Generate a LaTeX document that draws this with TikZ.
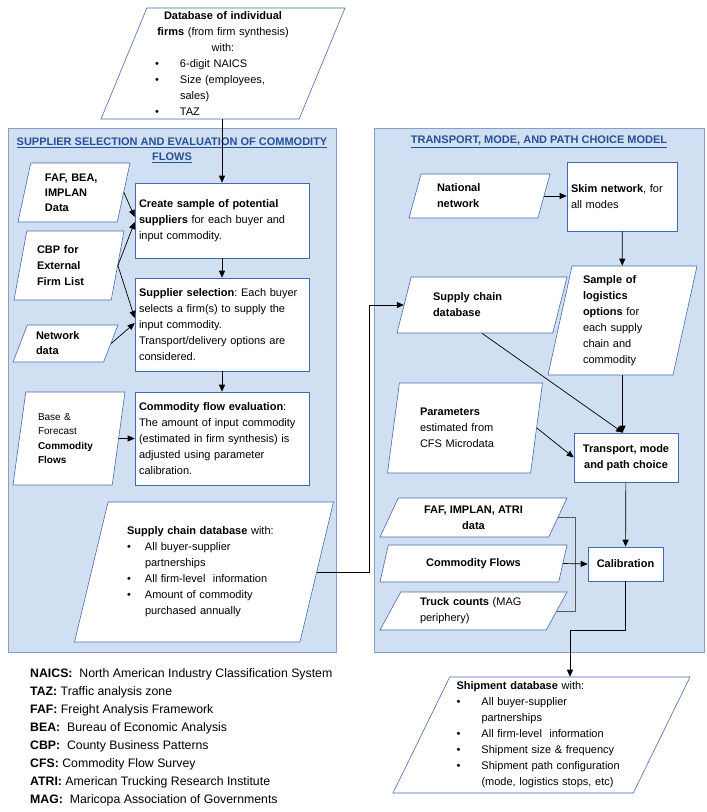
\documentclass[tikz,border=0pt]{standalone}
\usepackage{fontspec}
\setmainfont{Liberation Sans}
\usetikzlibrary{arrows.meta,shapes.geometric}
\frenchspacing

\definecolor{panelfill}{RGB}{208,224,242}
\definecolor{paneldraw}{RGB}{132,160,202}
\definecolor{boxblue}{RGB}{70,106,178}
\definecolor{titleblue}{RGB}{40,80,150}

% bullet line and its continuation line
\newcommand{\bitem}[2][25pt]{\makebox[\linewidth][l]{\makebox[#1][l]{\textbullet}#2}}
\newcommand{\bcont}[2][25pt]{\makebox[\linewidth][l]{\hspace*{#1}#2}}

\begin{document}
\begin{tikzpicture}[x=1pt, y=-1pt, >={Triangle[length=7pt,width=6pt]},
  every node/.style={font=\fontsize{11}{16}\selectfont},
  panel/.style={draw=paneldraw, fill=panelfill, line width=0.8pt},
  paneltitle/.style={text=titleblue, font=\fontsize{11}{15}\selectfont\bfseries, align=center},
  procbox/.style={draw=boxblue, fill=white, line width=0.6pt, inner sep=4pt, align=left},
  databox/.style={trapezium, trapezium left angle=#1, trapezium right angle={180-#1},
    trapezium stretches body, draw=boxblue, fill=white, line width=0.6pt, inner sep=0pt},
  flow/.style={->, line width=0.7pt},
  bracket/.style={line width=0.7pt, draw=black!65}]

  \fill[white] (0,0) rectangle (707,812);
  \useasboundingbox (0,0) rectangle (707,812);

  % Two model panels
  \draw[panel] (8,128) rectangle (336,652);
  \draw[panel] (374,128) rectangle (704,652);
  \node[paneltitle] (suptitle) at (172,150.5)
    {\underline{SUPPLIER SELECTION AND EVALUATION OF COMMODITY}\\\underline{FLOWS}};
  \node[paneltitle] (tptitle) at (539,142) {\underline{TRANSPORT, MODE, AND PATH CHOICE MODEL}};

  % Firm database from firm synthesis
  \node[databox=66.2, minimum width=244pt, minimum height=111pt, text width=136pt, align=center]
    (dbfirms) at (223,63.5)
    {\textbf{Database of individual}\\ \textbf{firms} (from firm synthesis)\\ with:\\
     \bitem{6-digit NAICS}\\ \bitem{Size (employees,}\\ \bcont{sales)}\\ \bitem{TAZ}};

  % Inputs of supplier selection
  \node[databox=71.3, minimum width=112pt, minimum height=59pt, text width=58pt, align=left,
    font=\fontsize{11}{15}\selectfont\bfseries] (fafbea) at (74,192.5) {FAF, BEA,\\IMPLAN\\Data};
  \node[databox=72.3, minimum width=110pt, minimum height=69pt, text width=64pt, align=left,
    font=\fontsize{11}{16}\selectfont\bfseries] (cbp) at (69,265.5) {CBP for\\External\\Firm List};
  \node[databox=58.1, minimum width=105pt, minimum height=37pt, text width=59pt, align=left,
    font=\fontsize{11}{15}\selectfont\bfseries] (network) at (65.5,343.5) {Network\\data};
  \node[databox=75.8, minimum width=112pt, minimum height=93pt, text width=62pt, align=left,
    font=\fontsize{10}{14.5}\selectfont] (basefc) at (69,438.5)
    {Base \&\\Forecast\\\textbf{Commodity}\\\textbf{Flows}};

  % Supplier selection steps
  \node[procbox, text width=166pt, minimum height=75pt] (create) at (222,220.5)
    {\textbf{Create sample of potential}\\\textbf{suppliers} for each buyer and\\input commodity.};
  \node[procbox, text width=166pt, minimum height=93pt] (suppsel) at (222,324.5)
    {\textbf{Supplier selection}: Each buyer\\selects a firm(s) to supply the\\input commodity.\\Transport/delivery options are\\considered.};
  \node[procbox, text width=166pt, minimum height=93pt] (cfeval) at (222,438.5)
    {\textbf{Commodity flow evaluation}:\\The amount of input commodity\\(estimated in firm synthesis) is\\adjusted using parameter\\calibration.};
  \node[databox=69.6, minimum width=259pt, minimum height=140pt, text width=154pt, align=left]
    (scdbleft) at (204,572)
    {\textbf{Supply chain database} with:\\ \bitem[18pt]{All buyer-supplier}\\ \bcont[18pt]{partnerships}\\
     \bitem[18pt]{All firm-level~ information}\\ \bitem[18pt]{Amount of commodity}\\ \bcont[18pt]{purchased annually}};

  % Transport, mode and path choice
  \node[databox=63.4, minimum width=141pt, minimum height=44pt, text width=85pt, align=left]
    (natnet) at (479.5,196) {\textbf{National}\\\textbf{network}};
  \node[procbox, text width=102pt, minimum height=69pt] (skim) at (622,196.5)
    {\textbf{Skim network}, for\\all modes};
  \node[databox=75.1, minimum width=149pt, minimum height=109pt, text width=79pt, align=left]
    (sample) at (622.5,320.5)
    {\textbf{Sample of}\\\textbf{logistics}\\\textbf{options} for\\each supply\\chain and\\commodity};
  \node[databox=59.5, minimum width=170pt, minimum height=56pt, text width=98pt, align=left]
    (scdbright) at (482,305) {\textbf{Supply chain}\\\textbf{database}};
  \node[databox=73.3, minimum width=155pt, minimum height=90pt, text width=90pt, align=left]
    (params) at (465,428) {\textbf{Parameters}\\estimated from\\CFS Microdata};
  \node[procbox, minimum width=104pt, minimum height=49pt, align=center,
    font=\fontsize{11}{16}\selectfont\bfseries] (transport) at (626,457.5) {Transport, mode\\and path choice};
  \node[procbox, minimum width=75pt, minimum height=34pt, font=\fontsize{11}{16}\selectfont\bfseries]
    (calib) at (625.5,564) {Calibration};

  % Calibration data
  \node[databox=52.4, minimum width=187pt, minimum height=39pt, align=center,
    font=\fontsize{11}{16}\selectfont\bfseries] (fafatri) at (473.5,517.5) {FAF, IMPLAN, ATRI\\data};
  \node[databox=51, minimum width=187pt, minimum height=37pt, font=\fontsize{11}{16}\selectfont\bfseries]
    (cflows) at (473.5,563.5) {Commodity Flows};
  \node[databox=51.7, minimum width=187pt, minimum height=38pt, text width=107pt, align=left]
    (truck) at (473.5,611) {\textbf{Truck counts} (MAG\\periphery)};

  % Final output
  \node[databox=61.9, minimum width=297pt, minimum height=116pt, text width=170pt, align=left]
    (shipdb) at (541.5,735)
    {\textbf{Shipment database} with:\\ \bitem{All buyer-supplier}\\ \bcont{partnerships}\\
     \bitem{All firm-level~ information}\\ \bitem{Shipment size \& frequency}\\
     \bitem{Shipment path configuration}\\ \bcont{(mode, logistics stops, etc)}};

  % Abbreviations
  \node[anchor=north west, inner sep=0pt, align=left, font=\fontsize{12.3}{18}\selectfont]
    (legend) at (30,668)
    {\textbf{NAICS:}~ North American Industry Classification System\\
     \textbf{TAZ:} Traffic analysis zone\\
     \textbf{FAF:} Freight Analysis Framework\\
     \textbf{BEA:}~ Bureau of Economic Analysis\\
     \textbf{CBP:}~ County Business Patterns\\
     \textbf{CFS:} Commodity Flow Survey\\
     \textbf{ATRI:} American Trucking Research Institute\\
     \textbf{MAG:}~ Maricopa Association of Governments};

  % Supplier selection flows
  \draw[flow] (create.north |- dbfirms.south) -- (create.north);
  \draw[flow] (fafbea.east) -- ([yshift=3.5pt]create.west);
  \draw[flow] (cbp.east) -- ([yshift=-1.5pt]create.west);
  \draw[flow] (cbp.east) -- ([yshift=6.5pt]suppsel.west);
  \draw[flow] (network.east) -- ([yshift=1.5pt]suppsel.west);
  \draw[flow] (create) -- (suppsel);
  \draw[flow] (suppsel) -- (cfeval);
  \draw[flow] (basefc.east) -- (cfeval.west);

  % Hand-over to the transport model
  \draw[flow] (scdbleft.east) -- ++(52,0) |- (scdbright.west);

  % Transport model flows
  \draw[flow] (natnet.east) -- (natnet.east -| skim.west);
  \draw[flow] (skim) -- (sample);
  \draw[flow] (sample.south) -- (sample.south |- transport.north);
  \draw[flow] (scdbright.center |- scdbright.south) -- ([xshift=-3pt]transport.north);
  \draw[flow] (params.east) -- (transport.west);
  \draw[flow] (transport) -- (calib);
  \draw[bracket] (fafatri.east) -- ++(17,0) |- (truck.east);
  \draw[flow] (cflows.east) -- (calib.west);
  \draw[flow] (calib.south) -- ++(0,49) -| (shipdb.top side);

\end{tikzpicture}
\end{document}
